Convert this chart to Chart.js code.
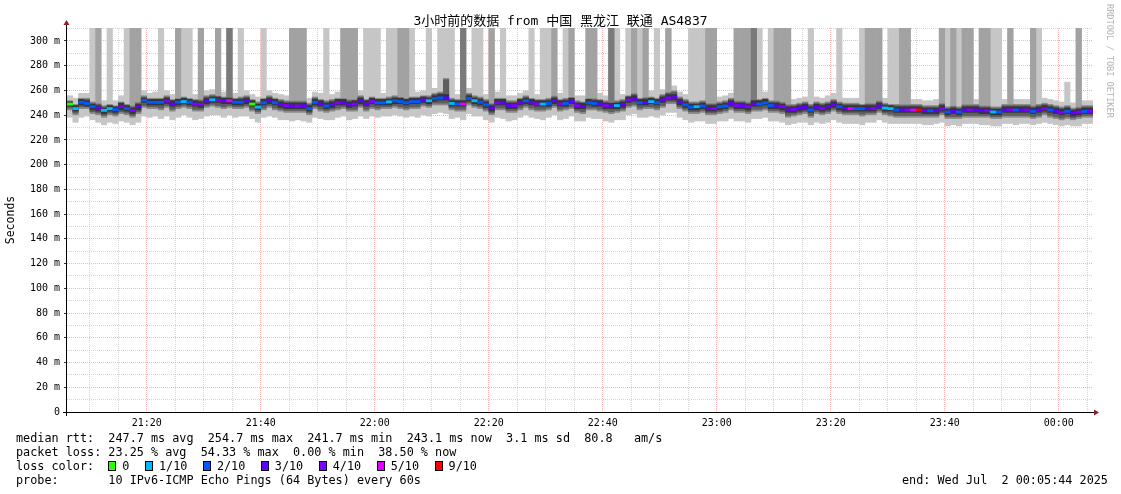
<!DOCTYPE html>
<html><head><meta charset="utf-8">
<script src="https://cdn.jsdelivr.net/npm/chart.js@4.4.1/dist/chart.umd.min.js"></script>
<style>
html,body{margin:0;padding:0;background:#fff;}
#wrap{position:relative;width:1121px;height:494px;overflow:hidden;background:#fff;}
#c{position:absolute;left:0;top:0;}
.t{position:absolute;font-family:"DejaVu Sans Mono",monospace;font-size:11.8px;line-height:14px;white-space:pre;color:#000;}
#title{left:0;top:14px;width:1121px;text-align:center;font-family:"DejaVu Sans Mono","Noto Sans CJK SC",monospace;font-size:13px;}
#side{position:absolute;left:1105px;top:4px;writing-mode:vertical-rl;font-family:"DejaVu Sans Mono",monospace;font-size:8.6px;color:#b4b4b4;white-space:pre;}
.box{display:inline-block;width:8px;height:10px;border:1px solid #000;box-sizing:border-box;vertical-align:-1px;margin-right:6px;}
.gap{display:inline-block;width:15.5px;}
</style></head><body>
<div id="wrap">
<canvas id="c" width="1121" height="494"></canvas>
<div id="title" class="t">3小时前的数据 from 中国 黑龙江 联通 AS4837</div>
<div id="side">RRDTOOL / TOBI OETIKER</div>
<div class="t" style="left:16px;top:431px;">median rtt:  247.7 ms avg  254.7 ms max  241.7 ms min  243.1 ms now  3.1 ms sd  80.8   am/s</div>
<div class="t" style="left:16px;top:445px;">packet loss: 23.25 % avg  54.33 % max  0.00 % min  38.50 % now</div>
<div class="t" id="losslegend" style="left:16px;top:459px;">loss color:  </div>
<div class="t" style="left:16px;top:473px;">probe:       10 IPv6-ICMP Echo Pings (64 Bytes) every 60s</div>
<div class="t" style="left:902px;top:473px;">end: Wed Jul  2 00:05:44 2025</div>
</div>
<script>
// ---- data (one value per 1-minute step, first step starts 21:06) ----
const startMinute = 6; // minutes after 21:00
const median = [249,245.3,250.4,249.5,246.9,245.8,243.9,245.3,244.5,247,
245.3,243.8,246.9,252,250.4,250.4,250.4,251.5,249,250.5,
251,250.5,249,248.7,251.5,252.5,252,251.5,251.7,250.5,
250.5,251.7,249,246.5,250,251.7,250,248.7,247.8,247.4,
247.4,247.8,245.3,250.5,249,247.4,248.4,250,250,248.4,
249,251.7,249,251,250,250,250.8,251.7,251,250,
251,251,252.3,251.7,253.5,254,254,249.5,249,249,
253.5,251.7,250.5,248.4,245.8,250,250,247.8,247.8,250,
251.7,250,249,249,249.5,251.7,249,249.5,251,247.8,
247,250,249.5,249,247.8,247.4,247.8,248.4,252.3,253,
250,250,251,250,252.3,254,254.7,250.5,248.4,246.5,
246.9,247.4,245.3,245.3,246.9,247.4,249.5,247.8,247.8,246.9,
249,249,250,247.8,247.4,246.9,244.2,244.7,245.8,246.4,
244.2,246.4,245.3,246.9,248.4,246.9,245.3,245.3,245.3,245.3,
245.3,245.3,247.4,245.8,245.3,244.2,244.2,244.2,244.2,244.2,
243.6,243.6,243.6,245.3,242.6,243.1,242.6,244.2,244.2,244.2,
243.6,243.6,242.6,242.6,244.2,244.2,244.2,244.2,244.2,243.1,
244.2,245.3,244.2,243.1,242,243.1,241.7,242.6,243.1,243.1];
const loss = [0,1,2,2,2,3,1,1,2,4, 2,4,3,2,2,2,2,4,3,2, 1,2,4,4,3,1,4,3,5,2,
2,3,0,1,2,3,2,3,4,3, 4,3,2,2,3,2,3,4,3,3, 4,3,3,4,2,2,1,2,2,2,
2,2,3,1,2,2,3,1,2,5, 2,1,2,2,3,4,3,3,4,3, 2,3,4,1,2,3,4,2,3,4,
3,2,2,3,4,3,1,3,4,3, 2,3,1,2,3,4,3,3,2,2, 1,2,3,4,2,2,3,4,3,4,
3,2,2,2,3,4,3,4,3,3, 2,3,4,3,3,2,3,5,2,2, 3,4,3,1,1,2,3,4,5,9,
3,2,3,4,2,3,2,3,4,3, 3,4,1,2,3,4,2,3,4,2, 3,4,2,3,4,2,3,4,2,4];
// number of pings above the top of the graph (smoke column to the top)
const overTop = [0,0,0,0,1,2,0,1,0,0, 1,2,2,0,0,0,1,0,0,2, 1,1,0,2,0,0,2,0,3,0,
1,0,0,0,1,0,0,0,0,2, 2,2,0,0,0,1,0,0,2,2, 2,0,1,1,1,0,1,1,2,2,
1,0,0,1,0,1,1,1,0,3, 0,1,1,0,2,0,1,0,0,0, 0,1,0,1,1,2,0,1,2,0,
0,2,2,0,0,3,1,0,1,2, 1,2,0,1,0,2,0,0,0,1, 1,1,2,2,0,0,0,2,2,2,
3,1,0,1,2,2,2,0,0,0, 1,0,0,0,0,1,0,0,0,1, 2,2,2,0,1,1,2,2,0,0,
0,0,0,2,1,2,1,2,2,0, 2,2,1,1,0,2,0,0,0,2, 1,0,0,0,0,0,0,2,0,0];
const lo1 = [238,234,238,239,236,234,232,234,233,235, 234,232,234,239,238,239,237,239,236,238,
240,238,236,237,239,240,240,238,240,238, 239,239,237,234,238,239,238,236,236,235,
236,235,234,238,237,236,236,238,239,236, 237,239,237,239,238,239,239,240,239,238,
239,238,240,239,241,242,241,237,238,236, 241,239,239,236,234,238,237,235,236,238,
240,238,237,236,238,240,236,237,239,235, 235,238,237,237,235,234,236,236,240,241,
238,238,239,238,240,242,242,238,236,234, 235,235,233,233,235,235,237,235,235,234,
237,237,238,235,235,234,232,233,234,234, 232,234,233,234,236,234,233,233,233,232,
234,234,236,234,233,233,233,233,233,233, 232,232,233,234,231,232,231,233,233,233,
232,232,231,231,233,233,232,233,233,232, 233,234,233,232,231,232,231,231,233,233];
const hi1 = [256,254,258,258,255,254,252,254,252,256, 254,252,256,260,258,259,258,260,257,258,
259,258,257,257,260,261,260,259,261,258, 259,260,257,255,258,260,258,257,256,256,
256,256,254,259,258,256,257,259,258,257, 257,260,257,260,258,258,259,260,259,258,
259,259,260,260,262,264,270,258,257,258, 262,260,259,257,254,259,258,256,256,258,
260,258,257,258,258,260,258,258,260,256, 256,258,258,258,256,256,256,257,260,262,
258,259,260,258,261,263,264,259,257,255, 255,256,254,254,255,256,258,256,256,255,
258,258,259,257,256,255,253,253,254,255, 253,255,254,256,258,255,254,254,254,253,
254,254,256,254,254,253,253,254,253,253, 252,252,253,254,251,252,251,253,253,253,
252,252,251,251,253,253,253,253,253,252, 253,254,253,252,251,267,250,252,252,252];
const lo2 = [244,240,245,245,241,240,238,240,239,241, 240,238,241,246,245,245,244,246,243,245,
246,245,243,243,246,247,246,245,246,245, 245,246,243,241,244,246,244,243,242,242,
242,242,240,245,243,242,243,244,245,243, 243,246,243,245,244,245,245,246,245,244,
245,245,247,246,248,248,248,244,243,243, 248,246,245,243,240,244,244,242,242,244,
246,244,243,243,244,246,243,244,245,242, 241,244,244,243,242,241,242,243,246,247,
244,245,245,244,246,249,249,245,243,241, 241,242,240,240,241,242,244,242,242,241,
243,243,244,242,242,241,238,239,240,241, 238,241,240,241,243,241,240,240,240,239,
240,240,242,240,239,238,238,238,238,238, 238,238,238,240,237,237,237,238,238,238,
238,238,237,237,238,238,238,238,238,237, 238,240,238,237,236,237,236,237,238,238];
const hi2 = [252,249,254,254,251,250,248,249,248,251, 249,248,251,256,254,254,254,256,253,254,
255,254,253,253,256,257,256,255,256,254, 255,256,253,251,254,256,254,253,252,252,
252,252,250,255,253,252,253,254,254,253, 253,256,253,255,254,254,255,256,255,254,
255,255,256,256,258,259,270,254,253,254, 258,256,255,253,250,254,254,252,252,254,
256,254,253,253,254,256,253,254,255,252, 251,254,254,253,252,251,252,253,256,258,
254,255,255,254,257,259,260,255,253,251, 251,252,250,250,251,252,254,252,252,251,
253,253,254,252,252,251,249,249,250,251, 249,251,250,251,253,251,250,250,250,249,
250,250,252,250,249,249,249,249,249,249, 248,248,248,250,247,248,247,249,249,249,
248,248,247,247,249,249,249,249,249,248, 249,250,249,248,247,248,246,247,248,248];
const lo3 = [247,243,248,247,244,243,241,243,242,244, 243,241,244,250,248,248,248,249,247,248,
249,248,247,246,249,250,250,249,249,248, 248,249,247,244,248,249,248,246,245,245,
245,245,243,248,247,245,246,248,248,246, 247,249,247,249,248,248,248,249,249,248,
249,249,250,249,251,252,252,247,247,247, 251,249,248,246,243,248,248,245,245,248,
249,248,247,247,247,249,247,247,249,245, 245,248,247,247,245,245,245,246,250,251,
248,248,249,248,250,252,252,248,246,244, 244,245,243,243,244,245,247,245,245,244,
247,247,248,245,245,244,242,242,243,244, 242,244,243,244,246,244,243,243,243,243,
243,243,245,243,243,242,242,242,242,242, 241,241,241,243,240,241,240,242,242,242,
241,241,240,240,242,242,242,242,242,241, 242,243,242,241,240,241,239,240,241,241];
const hi3 = [251,248,253,252,249,248,246,248,247,250, 248,246,249,254,253,253,253,254,252,253,
254,253,252,251,254,255,255,254,254,253, 253,254,252,249,253,254,253,251,250,250,
250,250,248,253,252,250,251,253,253,251, 252,254,252,254,253,253,253,254,254,253,
254,254,255,254,256,257,257,252,252,252, 256,254,253,251,248,253,253,250,250,253,
254,253,252,252,252,254,252,252,254,250, 250,253,252,252,250,250,250,251,255,256,
253,253,254,253,255,257,257,253,251,249, 249,250,248,248,249,250,252,250,250,249,
252,252,253,250,250,249,247,247,248,249, 247,249,248,249,251,249,248,248,248,248,
248,248,250,248,248,247,247,247,247,247, 246,246,246,248,245,246,245,247,247,247,
246,246,245,245,247,247,247,247,247,246, 247,248,247,246,245,246,244,245,246,246];

// axis / legend definitions
const xTickMinutes = [20,40,60,80,100,120,140,160,180];
const xTickLabels = ['21:20','21:40','22:00','22:20','22:40','23:00','23:20','23:40','00:00'];
const yTickValues = [0,20,40,60,80,100,120,140,160,180,200,220,240,260,280,300];
const yTickLabels = ['0','20 m','40 m','60 m','80 m','100 m','120 m','140 m','160 m','180 m','200 m','220 m','240 m','260 m','280 m','300 m'];
const lossLabels = ['0','1/10','2/10','3/10','4/10','5/10','9/10'];
const lossColors = ['#26ff00','#00b8ff','#0059ff','#5e00ff','#7e00ff','#dd00ff','#ff0000'];
const lossThresholds = [0,1,2,3,4,5,9];

const Y_MAX = 310.5, X_MIN = 6, X_MAX = 186;

// legend boxes
const ll = document.getElementById('losslegend');
lossLabels.forEach((lab,i)=>{
  const b = document.createElement('span'); b.className='box'; b.style.background=lossColors[i]; ll.appendChild(b);
  ll.appendChild(document.createTextNode(lab));
  if (i < lossLabels.length-1){ const g=document.createElement('span'); g.className='gap'; ll.appendChild(g); }
});

function lossColor(l){ let idx=0; lossThresholds.forEach((t,i)=>{ if(l>=t) idx=i; }); return lossColors[idx]; }

const xs = median.map((_,i)=> startMinute + i + 0.5);
const mk = (fn) => median.map((_,i)=>({x: xs[i], y: fn(i)}));

const common = {type:'bar', grouped:false, barPercentage:1.08, categoryPercentage:1, borderWidth:0};
const datasets = [
  Object.assign({}, common, {label:'median', order:0,
    data: mk(i=>[median[i]-1.15, median[i]+1.15]),
    backgroundColor: median.map((_,i)=>lossColor(loss[i]))}),
  Object.assign({}, common, {label:'inner', order:1,
    data: mk(i=>[lo3[i], hi3[i]]), backgroundColor:'#363636'}),
  Object.assign({}, common, {label:'col3', order:2,
    data: mk(i=> overTop[i]>=3 ? [hi3[i], Y_MAX] : null), backgroundColor:'#7a7a7a'}),
  Object.assign({}, common, {label:'mid2', order:3,
    data: mk(i=>[lo2[i]+1.5, hi2[i]-1]), backgroundColor:'#5e5e5e'}),
  Object.assign({}, common, {label:'mid', order:4,
    data: mk(i=>[lo2[i], hi2[i]]), backgroundColor:'#8a8a8a'}),
  Object.assign({}, common, {label:'col2', order:5,
    data: mk(i=> overTop[i]>=2 ? [hi2[i], Y_MAX] : null), backgroundColor:'#a2a2a2'}),
  Object.assign({}, common, {label:'outer', order:6,
    data: mk(i=>[lo1[i], overTop[i]>=1 ? Y_MAX : hi1[i]]), backgroundColor:'#c6c6c6'}),
];

const axesPlugin = {
  id:'axes',
  afterDatasetsDraw(chart){
    const {ctx, chartArea:a} = chart;
    ctx.save();
    ctx.strokeStyle='#000'; ctx.lineWidth=1;
    ctx.beginPath();
    ctx.moveTo(a.left-4, a.bottom+0.5); ctx.lineTo(a.right+1, a.bottom+0.5);
    ctx.moveTo(a.left-0.5, a.bottom+4); ctx.lineTo(a.left-0.5, a.top-3);
    ctx.stroke();
    ctx.fillStyle='#902020';
    ctx.beginPath(); ctx.moveTo(a.right+6, a.bottom+0.5); ctx.lineTo(a.right+1, a.bottom-2.5); ctx.lineTo(a.right+1, a.bottom+3.5); ctx.closePath(); ctx.fill();
    ctx.beginPath(); ctx.moveTo(a.left-0.5, a.top-8); ctx.lineTo(a.left-3.5, a.top-3); ctx.lineTo(a.left+2.5, a.top-3); ctx.closePath(); ctx.fill();
    ctx.restore();
  }
};

const monoFont = {family:'"DejaVu Sans Mono", monospace', size:10};
const MAJOR = 'rgba(255,0,0,0.3)', MINOR = 'rgba(128,128,128,0.32)';

new Chart(document.getElementById('c'), {
  type:'bar',
  data:{datasets},
  options:{
    responsive:false, animation:false, devicePixelRatio:1,
    layout:{padding:{left:0, top:28, right:28, bottom:62}},
    plugins:{legend:{display:false}, tooltip:{enabled:false}, title:{display:false}},
    scales:{
      x:{type:'linear', min:X_MIN, max:X_MAX, offset:false,
        afterBuildTicks(s){ const t=[]; for(let v=10; v<X_MAX; v+=5) t.push({value:v}); s.ticks=t; },
        afterFit(s){ s.height=20; },
        grid:{drawTicks:false, offset:false, lineWidth:1,
          color:(c)=> (c.tick && c.tick.value%20===0) ? MAJOR : MINOR},
        border:{display:false, dash:[1,1]},
        ticks:{autoSkip:false, maxRotation:0, padding:5, color:'#000', font:monoFont,
          callback:(v)=>{ const k=xTickMinutes.indexOf(v); return k>=0 ? xTickLabels[k] : ''; }}
      },
      y:{type:'linear', min:0, max:Y_MAX,
        afterBuildTicks(s){ const t=[]; for(let v=0; v<=310; v+=10) t.push({value:v}); s.ticks=t; },
        afterFit(s){ s.width=67; },
        grid:{drawTicks:true, tickLength:3, lineWidth:1,
          color:(c)=> (c.tick && c.tick.value===0) ? 'rgba(0,0,0,0)' : ((c.tick && c.tick.value%20===0) ? MAJOR : MINOR),
          tickColor:(c)=> (c.tick && c.tick.value%20===0) ? '#333' : 'rgba(0,0,0,0)'},
        border:{display:false, dash:[1,1]},
        title:{display:true, text:'Seconds', color:'#000', font:{family:'"DejaVu Sans Mono", monospace', size:11.5}, padding:{top:4,bottom:0}},
        ticks:{autoSkip:false, padding:4, color:'#000', font:monoFont,
          callback:(v)=>{ const k=yTickValues.indexOf(v); return k>=0 ? yTickLabels[k] : ''; }}
      }
    }
  },
  plugins:[axesPlugin]
});
</script>
</body></html>
